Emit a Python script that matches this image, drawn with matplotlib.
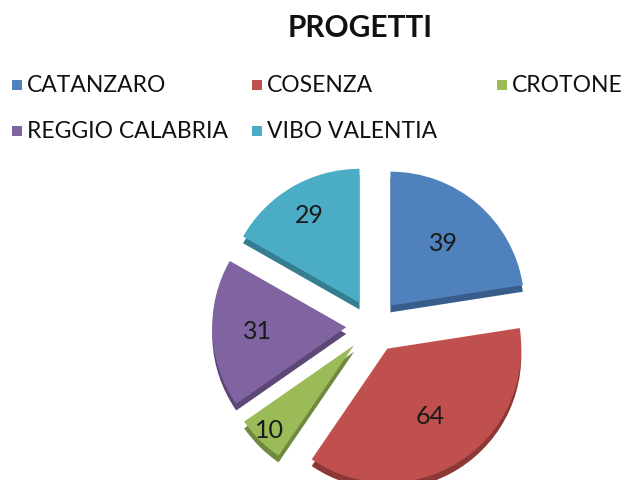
import matplotlib
matplotlib.use("Agg")
import matplotlib.pyplot as plt
from matplotlib.patches import Rectangle
import numpy as np

title = "PROGETTI"
categories = ["CATANZARO", "COSENZA", "CROTONE", "REGGIO CALABRIA", "VIBO VALENTIA"]
values = [39, 64, 10, 31, 29]
colors = ["#4F81BD", "#C0504D", "#9BBB59", "#8064A2", "#4BACC6"]
side_colors = ["#385D8A", "#8C3836", "#71893F", "#5C4776", "#357D91"]
label_dist = [0.61, 0.6, 0.9, 0.66, 0.75]

plt.rcParams['font.family'] = ['Lato', 'DejaVu Sans']

W, H = 632, 480
fig = plt.figure(figsize=(W / 100, H / 100), dpi=100)
fig.patch.set_facecolor("white")

# pie axes: center (374, 325) px, radius 134 px
cx, cy, R = 373, 326, 134
half = 200
ax = fig.add_axes([(cx - half) / W, (H - cy - half) / H, 2 * half / W, 2 * half / H])
L = half / R
ax.axis("off")

explode = [0.2] * len(values)
depth = 0.05

# side (depth) layer
ax.pie(values, colors=side_colors, startangle=90, counterclock=False,
       explode=explode, center=(0, -depth), radius=1.0,
       wedgeprops=dict(linewidth=0))
# top layer
wedges, texts = ax.pie(values, colors=colors, startangle=90, counterclock=False,
                       explode=explode, labels=[str(v) for v in values],
                       labeldistance=0.6, radius=1.0,
                       wedgeprops=dict(linewidth=0),
                       textprops=dict(fontsize=18, color="#1a1a1a"))
for w, t, d in zip(wedges, texts, label_dist):
    th = np.deg2rad((w.theta1 + w.theta2) / 2)
    x0, y0 = w.center
    t.set_position((x0 + d * w.r * np.cos(th), y0 + d * w.r * np.sin(th)))
    t.set_horizontalalignment("center")
    t.set_verticalalignment("center")
ax.set_xlim(-L, L)
ax.set_ylim(-L, L)
ax.set_aspect("equal")

fig.text(360 / W, 1 - 28 / H, title, ha="center", va="center",
         fontsize=21.5, fontweight="bold", color="#111111")

col_x = [12, 252, 497]
row_y = [85, 131]
for i, (name, c) in enumerate(zip(categories, colors)):
    r, k = divmod(i, 3)
    x, y = col_x[k], row_y[r]
    fig.patches.append(Rectangle((x / W, 1 - (y + 5) / H), 10 / W, 10 / H,
                                 transform=fig.transFigure, facecolor=c,
                                 edgecolor="none"))
    fig.text((x + 15) / W, 1 - y / H, name, ha="left", va="center",
             fontsize=16.5, color="#111111")

fig.savefig("out.png", dpi=100, facecolor="white")
